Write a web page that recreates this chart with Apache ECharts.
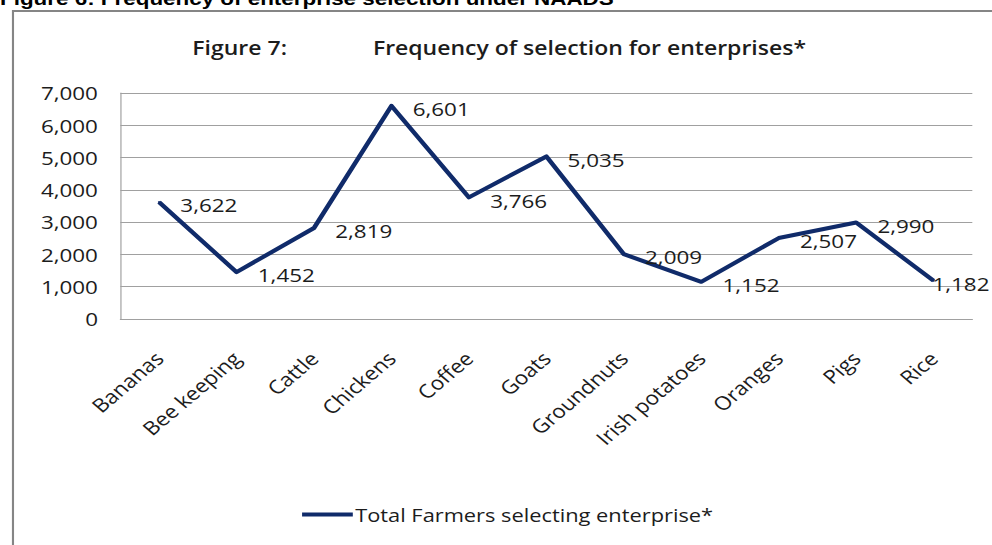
<!DOCTYPE html>
<html>
<head>
<meta charset="utf-8">
<script src="https://cdn.jsdelivr.net/npm/echarts@6/dist/echarts.min.js"></script>
<style>
  html, body { margin: 0; padding: 0; background: #ffffff; overflow: hidden; }
  /* the figure is laid out on a narrower canvas and widened horizontally */
  #chart { width: 841px; height: 545px; transform: scaleX(1.18); transform-origin: 0 0; }
</style>
</head>
<body>
<div id="chart"></div>
<script>
// Enterprises and how many farmers selected each one
const categories = ['Bananas', 'Bee keeping', 'Cattle', 'Chickens', 'Coffee', 'Goats',
  'Groundnuts', 'Irish potatoes', 'Oranges', 'Pigs', 'Rice'];
const farmers = [3622, 1452, 2819, 6601, 3766, 5035, 2009, 1152, 2507, 2990, 1182];
const yTicks = { min: 0, max: 7000, step: 1000 };
const seriesName = 'Total Farmers selecting enterprise*';

const FONT = '"Open Sans", "Noto Sans", sans-serif';
const INK = '#1c1c1c';
const NAVY = '#102b6a';
const GRID = '#a0a0a0';

// the last value label sits tight against its point so it stays inside the frame
const lineData = farmers.map((v, i) =>
  i === farmers.length - 1 ? { value: v, label: { distance: -2 } } : v);

const chart = echarts.init(document.getElementById('chart'), null, { renderer: 'svg' });

chart.setOption({
  backgroundColor: '#ffffff',
  animation: false,
  graphic: [
    {
      type: 'text', left: 0, top: -11, silent: true,
      style: { text: 'Figure 6: Frequency of enterprise selection under NAADS',
        font: 'bold 19px "Liberation Sans", Arial, sans-serif', fill: '#000' }
    },
    {
      type: 'rect', silent: true,
      shape: { x: 11, y: 11, width: 900, height: 600 },
      style: { fill: 'none', stroke: '#858585', lineWidth: 1.8 }
    },
    {
      type: 'text', left: 163, top: 37, silent: true,
      style: { text: 'Figure 7:', font: '600 19.5px ' + FONT, fill: INK }
    },
    {
      type: 'text', left: 316, top: 37, silent: true,
      style: { text: 'Frequency of selection for enterprises*', font: '600 19.5px ' + FONT, fill: INK }
    }
  ],
  grid: { left: 102, right: 17, top: 93, bottom: 226 },
  legend: {
    data: [{ name: seriesName, icon: 'rect' }],
    top: 500,
    left: 251,
    itemWidth: 43,
    itemHeight: 4,
    textStyle: { fontFamily: FONT, fontSize: 18.5, color: INK, padding: [0, 0, 0, -3] }
  },
  xAxis: {
    type: 'category',
    data: categories,
    boundaryGap: true,
    axisLine: { show: true, lineStyle: { color: GRID, width: 1 } },
    axisTick: { show: false },
    axisLabel: {
      rotate: 45, interval: 0, margin: 36,
      fontFamily: FONT, fontSize: 19, color: INK
    }
  },
  yAxis: {
    type: 'value',
    min: yTicks.min, max: yTicks.max, interval: yTicks.step,
    axisLine: { show: true, lineStyle: { color: GRID, width: 1 } },
    axisTick: { show: false },
    splitLine: { show: true, lineStyle: { color: GRID, width: 1 } },
    axisLabel: {
      margin: 19,
      fontFamily: FONT, fontSize: 19, color: INK,
      formatter: v => v.toLocaleString('en-US')
    }
  },
  series: [{
    name: seriesName,
    type: 'line',
    data: lineData,
    showSymbol: true,
    symbol: 'circle',
    symbolSize: 2,
    lineStyle: { color: NAVY, width: 4, join: 'round' },
    itemStyle: { color: NAVY },
    label: {
      show: true, position: 'right', distance: 17, offset: [0, 3],
      fontFamily: FONT, fontSize: 19, color: INK,
      formatter: p => p.value.toLocaleString('en-US')
    }
  }]
});
</script>
</body>
</html>
